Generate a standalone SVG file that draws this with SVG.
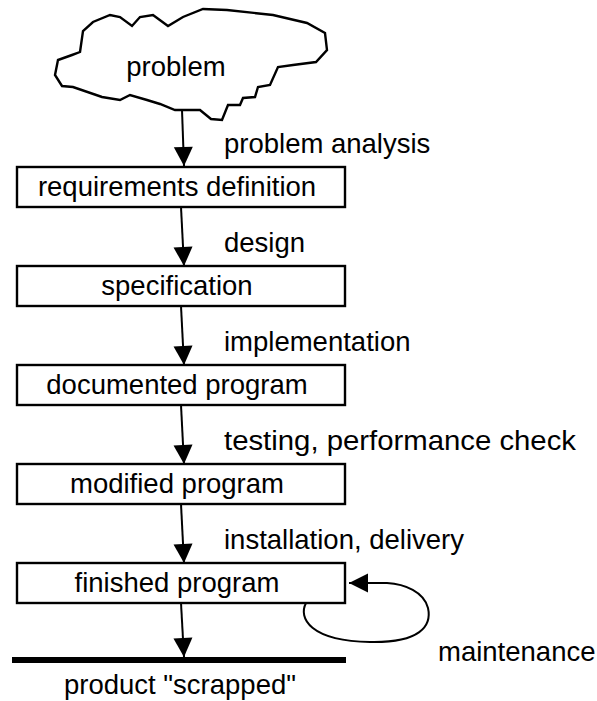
<svg xmlns="http://www.w3.org/2000/svg" width="597" height="701" viewBox="0 0 597 701">
  <style>
    text { font-family: "Liberation Sans", Arial, sans-serif; font-size: 27.5px; fill: #000; }
    .mid { text-anchor: middle; }
    .box { fill: #fff; stroke: #000; stroke-width: 2.4; }
    .edge { fill: none; stroke: #000; stroke-width: 2; }
  </style>
  <defs>
    <marker id="head" markerUnits="userSpaceOnUse" markerWidth="20" markerHeight="20" refX="19" refY="9.5" orient="auto" overflow="visible">
      <path d="M0,0 L19,9.5 L0,19 Z" fill="#000"/>
    </marker>
  </defs>

  <!-- problem cloud -->
  <g id="problem">
    <path class="box" d="M80,52 L83,31 L93,22 L110,15 L120,17 L132,26 L140,17 L153,15 L168,26 L183,17 L203,9 L227,10 L273,15 L307,23 L325,33 L327,50 L316,62 L293,65 L278,67 L270,85 L258,87 L255,97 L243,98 L240,105 L228,105 L222,120 L211,119 L200,110 L175,110 L160,104 L147,100 L130,95 L120,100 L102,97 L73,87 L62,86 L55,75 L58,60 L72,55 Z"/>
    <text class="mid" x="176" y="76">problem</text>
  </g>

  <g id="requirements">
    <rect class="box" x="17" y="167" width="328" height="40"/>
    <text class="mid" x="177" y="196">requirements definition</text>
  </g>
  <g id="specification">
    <rect class="box" x="17" y="266" width="328" height="40"/>
    <text class="mid" x="177" y="295">specification</text>
  </g>
  <g id="documented">
    <rect class="box" x="17" y="365" width="328" height="40"/>
    <text class="mid" x="177" y="394">documented program</text>
  </g>
  <g id="modified">
    <rect class="box" x="17" y="464" width="328" height="40"/>
    <text class="mid" x="177" y="493">modified program</text>
  </g>
  <g id="finished">
    <rect class="box" x="17" y="563" width="328" height="40"/>
    <text class="mid" x="177" y="592">finished program</text>
  </g>
  <g id="scrapped">
    <rect x="12" y="657" width="334" height="6" fill="#000"/>
    <text class="mid" x="180" y="694">product "scrapped"</text>
  </g>

  <!-- connectors -->
  <g id="connectors">
    <line class="edge" x1="182" y1="110" x2="184" y2="166" marker-end="url(#head)"/>
    <line class="edge" x1="181" y1="207" x2="184" y2="266" marker-end="url(#head)"/>
    <line class="edge" x1="181" y1="306" x2="184" y2="365" marker-end="url(#head)"/>
    <line class="edge" x1="181" y1="405" x2="184" y2="464" marker-end="url(#head)"/>
    <line class="edge" x1="181" y1="504" x2="184" y2="563" marker-end="url(#head)"/>
    <line class="edge" x1="181" y1="603" x2="184" y2="657" marker-end="url(#head)"/>
    <path class="edge" d="M306,603 C298,618 310,641 370,642 C420,643 432,626 428,608 C424,592 405,584 387,583 L349,583" marker-end="url(#head)"/>
    <text x="224" y="153">problem analysis</text>
    <text x="224" y="252">design</text>
    <text x="224" y="351">implementation</text>
    <text x="224" y="450" textLength="352" lengthAdjust="spacingAndGlyphs">testing, performance check</text>
    <text x="224" y="549">installation, delivery</text>
    <text x="438" y="661">maintenance</text>
  </g>
</svg>
